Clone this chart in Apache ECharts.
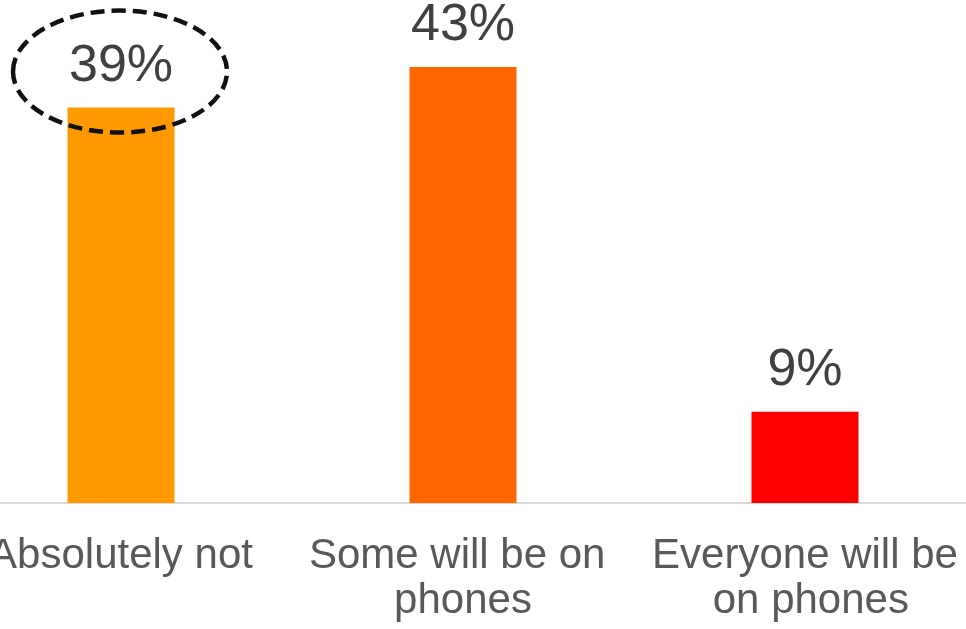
<!DOCTYPE html>
<html>
<head>
<meta charset="utf-8">
<script src="https://cdn.jsdelivr.net/npm/echarts@6/dist/echarts.min.js"></script>
<style>
html,body{margin:0;padding:0;background:#fff;}
#chart{width:966px;height:629px;}
</style>
</head>
<body>
<div id="chart"></div>
<script>
var categories = ['Absolutely not', 'Some will be on phones', 'Everyone will be on phones'];
var values = [39, 43, 9];
var barColors = ['#FF9900', '#FF6600', '#FF0000'];
var highlightIndex = 0;

var chart = echarts.init(document.getElementById('chart'), null, {renderer: 'canvas'});
var FONT = 'Liberation Sans, Arial, Helvetica, sans-serif';

var option = {
  animation: false,
  backgroundColor: '#ffffff',
  grid: {left: -50, right: -10, top: -4, bottom: 126, containLabel: false, outerBoundsMode: 'none'},
  xAxis: {
    type: 'category',
    data: categories,
    axisLine: {show: true, lineStyle: {color: '#d9d9d9', width: 2}},
    axisTick: {show: false},
    axisLabel: {
      color: '#595959', fontSize: 42, fontFamily: FONT, lineHeight: 45,
      margin: 31, interval: 0, width: 312, overflow: 'break', hideOverlap: false
    }
  },
  yAxis: {
    type: 'value', min: 0, max: 50,
    show: false, splitLine: {show: false}
  },
  series: [{
    type: 'bar',
    barWidth: 107,
    data: values.map(function (v, i) {
      return {value: v, itemStyle: {color: barColors[i]}};
    }),
    label: {
      show: true, position: 'top', distance: 15,
      color: '#404040', fontSize: 52, fontFamily: FONT,
      formatter: function (p) { return p.value + '%'; }
    }
  }]
};
chart.setOption(option);

var pt = chart.convertToPixel({seriesIndex: 0}, [highlightIndex, values[highlightIndex]]);
chart.setOption({
  graphic: [{
    type: 'ellipse',
    shape: {cx: pt[0] - 1, cy: pt[1] - 36, rx: 107, ry: 61},
    style: {fill: 'none', stroke: '#111111', lineWidth: 4.5, lineDash: [14, 7]},
    z: 100
  }]
});
</script>
</body>
</html>
